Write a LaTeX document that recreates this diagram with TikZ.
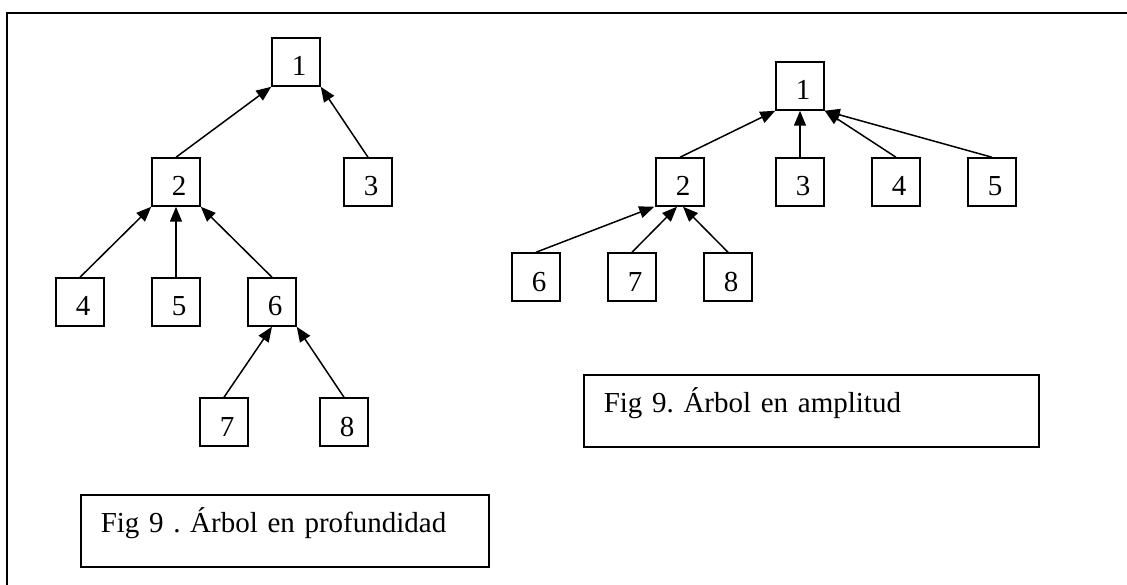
\documentclass[tikz,border=0pt]{standalone}
\usepackage{fontspec}
\setmainfont{Liberation Serif}
\usetikzlibrary{arrows.meta}
\frenchspacing
\begin{document}
\begin{tikzpicture}[x=1pt,y=-1pt,
  every node/.style={font=\fontsize{29}{34}\selectfont},
  nbox/.style={draw,line width=1.5pt,rectangle,minimum width=48pt,minimum height=48pt,inner sep=0pt,text height=28pt,text depth=0pt},
  capbox/.style={draw,line width=1.5pt,rectangle,anchor=north west,inner xsep=20pt,inner ysep=0pt,minimum height=72pt,text height=24pt,text depth=20pt,align=left},
  conn/.style={line width=1.5pt,-{Triangle[length=15pt,width=12pt]}}]
\useasboundingbox (0,0) rectangle (1127,585);
\draw[line width=2pt] (7,585) -- (7,13) -- (1127,13);
% left tree
\node[nbox] (l1) at (296,62) {\hspace*{6pt}1};
\node[nbox] (l2) at (176,182) {\hspace*{6pt}2};
\node[nbox] (l3) at (368,182) {\hspace*{6pt}3};
\node[nbox] (l4) at (80,302) {\hspace*{6pt}4};
\node[nbox] (l5) at (176,302) {\hspace*{6pt}5};
\node[nbox] (l6) at (272,302) {\hspace*{6pt}6};
\node[nbox] (l7) at (224,422) {\hspace*{6pt}7};
\node[nbox] (l8) at (344,422) {\hspace*{6pt}8};
\draw[conn] (l2.north) -- (l1.south west);
\draw[conn] (l3.north) -- (l1.south east);
\draw[conn] (l4.north) -- (l2.south west);
\draw[conn] (l5.north) -- (l2.south);
\draw[conn] (l6.north) -- (l2.south east);
\draw[conn] (l7.north) -- (l6.south);
\draw[conn] (l8.north) -- (l6.south east);
\node[capbox,text width=368pt] (capl) at (80,494) {\frenchspacing Fig 9 . Árbol en profundidad};
% right tree
\node[nbox] (r1) at (800,86) {\hspace*{6pt}1};
\node[nbox] (r2) at (680,182) {\hspace*{6pt}2};
\node[nbox] (r3) at (800,182) {\hspace*{6pt}3};
\node[nbox] (r4) at (896,182) {\hspace*{6pt}4};
\node[nbox] (r5) at (992,182) {\hspace*{6pt}5};
\node[nbox] (r6) at (536,277) {\hspace*{6pt}6};
\node[nbox] (r7) at (632,277) {\hspace*{6pt}7};
\node[nbox] (r8) at (728,277) {\hspace*{6pt}8};
\draw[conn] (r2.north) -- (r1.south west);
\draw[conn] (r3.north) -- (r1.south);
\draw[conn] (r4.north) -- (r1.south east);
\draw[conn] (r5.north) -- (r1.south east);
\draw[conn] (r6.north) -- ([xshift=-1pt]r2.south west);
\draw[conn] (r7.north) -- ([xshift=-3pt]r2.south);
\draw[conn] (r8.north) -- ([xshift=3pt]r2.south);
\node[capbox,text width=415pt] (capr) at (583,374) {\frenchspacing Fig 9. Árbol en amplitud};
\end{tikzpicture}
\end{document}
